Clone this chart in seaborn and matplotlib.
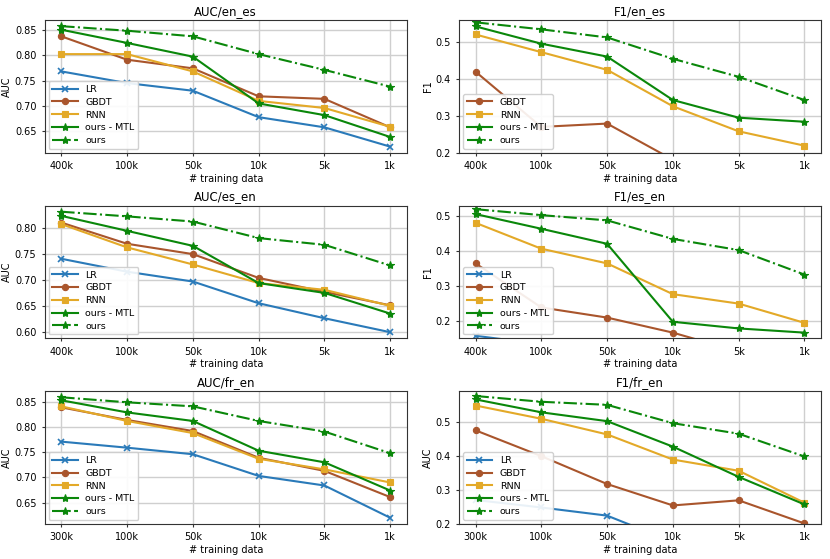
import matplotlib
matplotlib.use("Agg")
import matplotlib.pyplot as plt
from matplotlib.ticker import MultipleLocator
import seaborn as sns
import pandas as pd

# ---- data ----
sizes_en_es = ["400k", "100k", "50k", "10k", "5k", "1k"]
sizes_es_en = ["400k", "100k", "50k", "10k", "5k", "1k"]
sizes_fr_en = ["300k", "100k", "50k", "10k", "5k", "1k"]

auc_en_es_lr   = [0.768, 0.745, 0.730, 0.678, 0.658, 0.620]
auc_en_es_gbdt = [0.837, 0.791, 0.774, 0.719, 0.714, 0.658]
auc_en_es_rnn  = [0.802, 0.802, 0.768, 0.710, 0.696, 0.659]
auc_en_es_mtl  = [0.850, 0.824, 0.797, 0.705, 0.682, 0.639]
auc_en_es_ours = [0.857, 0.848, 0.837, 0.802, 0.771, 0.738]

f1_en_es_gbdt = [0.420, 0.270, 0.279, 0.181, 0.150, 0.120]
f1_en_es_rnn  = [0.521, 0.473, 0.425, 0.326, 0.258, 0.219]
f1_en_es_mtl  = [0.543, 0.496, 0.461, 0.343, 0.295, 0.284]
f1_en_es_ours = [0.554, 0.535, 0.513, 0.455, 0.406, 0.343]

auc_es_en_lr   = [0.741, 0.716, 0.697, 0.655, 0.626, 0.599]
auc_es_en_gbdt = [0.811, 0.770, 0.750, 0.704, 0.677, 0.651]
auc_es_en_rnn  = [0.808, 0.763, 0.730, 0.694, 0.681, 0.650]
auc_es_en_mtl  = [0.824, 0.795, 0.766, 0.694, 0.675, 0.635]
auc_es_en_ours = [0.832, 0.823, 0.813, 0.781, 0.768, 0.728]

f1_es_en_lr   = [0.157, 0.133, 0.110, 0.090, 0.080, 0.070]
f1_es_en_gbdt = [0.364, 0.238, 0.209, 0.166, 0.112, 0.080]
f1_es_en_rnn  = [0.480, 0.406, 0.364, 0.276, 0.249, 0.194]
f1_es_en_mtl  = [0.505, 0.463, 0.420, 0.197, 0.178, 0.166]
f1_es_en_ours = [0.519, 0.502, 0.487, 0.434, 0.402, 0.332]

auc_fr_en_lr   = [0.771, 0.759, 0.746, 0.703, 0.684, 0.620]
auc_fr_en_gbdt = [0.839, 0.814, 0.792, 0.739, 0.713, 0.661]
auc_fr_en_rnn  = [0.841, 0.812, 0.788, 0.737, 0.716, 0.690]
auc_fr_en_mtl  = [0.853, 0.829, 0.812, 0.753, 0.730, 0.674]
auc_fr_en_ours = [0.859, 0.849, 0.841, 0.812, 0.791, 0.748]

f1_fr_en_lr   = [0.270, 0.248, 0.224, 0.147, 0.130, 0.100]
f1_fr_en_gbdt = [0.475, 0.399, 0.317, 0.254, 0.269, 0.201]
f1_fr_en_rnn  = [0.548, 0.509, 0.463, 0.389, 0.356, 0.262]
f1_fr_en_mtl  = [0.566, 0.528, 0.502, 0.427, 0.338, 0.257]
f1_fr_en_ours = [0.576, 0.559, 0.550, 0.496, 0.465, 0.398]

# ---- styles ----
STYLE = {
    "LR":         dict(color="#2a7ab9", marker="x", linestyle="-", ms=5),
    "GBDT":       dict(color="#a9552c", marker="o", linestyle="-", ms=4.5),
    "RNN":        dict(color="#e3a928", marker="s", linestyle="-", ms=4.5),
    "ours - MTL": dict(color="#0a870a", marker="*", linestyle="-", ms=6),
    "ours":       dict(color="#0a870a", marker="*", linestyle="-.", ms=6),
}

panels = [
    ("AUC/en_es", "AUC", sizes_en_es,
     {"LR": auc_en_es_lr, "GBDT": auc_en_es_gbdt, "RNN": auc_en_es_rnn,
      "ours - MTL": auc_en_es_mtl, "ours": auc_en_es_ours}, None, 0.05),
    ("F1/en_es", "F1", sizes_en_es,
     {"GBDT": f1_en_es_gbdt, "RNN": f1_en_es_rnn,
      "ours - MTL": f1_en_es_mtl, "ours": f1_en_es_ours}, (0.2, 0.56), 0.1),
    ("AUC/es_en", "AUC", sizes_es_en,
     {"LR": auc_es_en_lr, "GBDT": auc_es_en_gbdt, "RNN": auc_es_en_rnn,
      "ours - MTL": auc_es_en_mtl, "ours": auc_es_en_ours}, None, 0.05),
    ("F1/es_en", "F1", sizes_es_en,
     {"LR": f1_es_en_lr, "GBDT": f1_es_en_gbdt, "RNN": f1_es_en_rnn,
      "ours - MTL": f1_es_en_mtl, "ours": f1_es_en_ours}, (0.15, 0.529), 0.1),
    ("AUC/fr_en", "AUC", sizes_fr_en,
     {"LR": auc_fr_en_lr, "GBDT": auc_fr_en_gbdt, "RNN": auc_fr_en_rnn,
      "ours - MTL": auc_fr_en_mtl, "ours": auc_fr_en_ours}, None, 0.05),
    ("F1/fr_en", "AUC", sizes_fr_en,
     {"LR": f1_fr_en_lr, "GBDT": f1_fr_en_gbdt, "RNN": f1_fr_en_rnn,
      "ours - MTL": f1_fr_en_mtl, "ours": f1_fr_en_ours}, (0.2, 0.59), 0.1),
]

plt.rcParams.update(plt.rcParamsDefault)
plt.rcParams.update({
    "font.size": 7,
    "axes.titlesize": 8.5,
    "axes.labelsize": 7,
    "xtick.labelsize": 7,
    "ytick.labelsize": 7,
    "legend.fontsize": 6.8,
    "axes.edgecolor": "#333333",
    "xtick.major.size": 2.5,
    "ytick.major.size": 2.5,
    "xtick.color": "#333333",
    "ytick.color": "#333333",
    "xtick.labelcolor": "black",
    "ytick.labelcolor": "black",
    "axes.titlepad": 4,
    "axes.labelpad": 2,
})

fig, axes = plt.subplots(3, 2, figsize=(8.3, 5.59), dpi=100)
fig.subplots_adjust(left=0.054, right=0.989, top=0.964, bottom=0.063,
                    wspace=0.145, hspace=0.40)

for ax, (title, ylabel, sizes, series, ylim, step) in zip(axes.flat, panels):
    for name, vals in series.items():
        df = pd.DataFrame({"size": sizes, "value": vals})
        st = STYLE[name]
        sns.lineplot(data=df, x="size", y="value", ax=ax, sort=False,
                     color=st["color"], marker=st["marker"],
                     linestyle=st["linestyle"], linewidth=1.5,
                     markersize=st["ms"],
                     markeredgecolor=st["color"],
                     markeredgewidth=1.2 if st["marker"] == "x" else 0.8,
                     label=name)
    ax.set_xlim(-0.25, 5.25)
    if ylim is not None:
        ax.set_ylim(*ylim)
    ax.yaxis.set_major_locator(MultipleLocator(step))
    ax.set_title(title)
    ax.set_xlabel("# training data")
    ax.set_ylabel(ylabel)
    ax.grid(True, color="#cfcfcf", linewidth=1)
    ax.set_axisbelow(True)
    ax.legend(loc="lower left", framealpha=0.9, handlelength=2.7,
              borderaxespad=0.4, labelspacing=0.4)

fig.savefig("out.png", dpi=100)
